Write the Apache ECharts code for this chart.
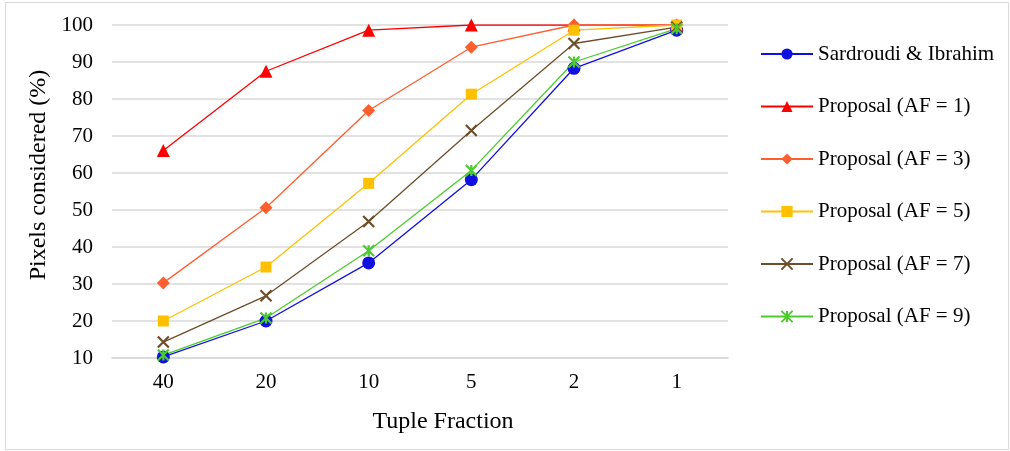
<!DOCTYPE html>
<html><head><meta charset="utf-8">
<script src="https://cdn.jsdelivr.net/npm/echarts@6/dist/echarts.min.js"></script>
<style>html,body{margin:0;padding:0;background:#fff}#c{width:1010px;height:451px}</style>
</head><body><div id="c"></div>
<script>
const categories = ['40','20','10','5','2','1'];
const seriesNames = ['Sardroudi & Ibrahim','Proposal (AF = 1)','Proposal (AF = 3)','Proposal (AF = 5)','Proposal (AF = 7)','Proposal (AF = 9)'];
const sardroudi = [10.3, 20.0, 35.7, 58.2, 88.3, 98.6];
const af1 = [66.1, 87.5, 98.6, 100, 100, 100];
const af3 = [30.3, 50.6, 76.9, 94.0, 100, 100];
const af5 = [20.0, 34.6, 57.2, 81.3, 98.6, 100];
const af7 = [14.3, 26.8, 46.9, 71.5, 95.0, 99.4];
const af9 = [10.8, 20.8, 39.0, 60.7, 90.0, 99.0];
const yTicks = [10,20,30,40,50,60,70,80,90,100];
const xTitle = 'Tuple Fraction';
const yTitle = 'Pixels considered (%)';

const colors = ['#1010E0','#FF0000','#FF5E2E','#FFC000','#6E4E2A','#4CCB2E'];
const symbols = ['circle','triangle','diamond','rect',
  'path://M0,0L10,10M10,0L0,10',
  'path://M0,0L10,10M10,0L0,10M5,0L5,10'];
const sizes = [13,13,13,11,11,11];
const datas = [sardroudi, af1, af3, af5, af7, af9];
const font = '"Liberation Serif", "Times New Roman", serif';

const chart = echarts.init(document.getElementById('c'));
chart.setOption({
  animation: false,
  backgroundColor: '#fff',
  graphic: [
    {type:'rect', shape:{x:5.5,y:2.5,width:1003,height:447}, style:{fill:'none', stroke:'#d9d9d9', lineWidth:1}, silent:true, z:-1},
    {type:'text', x:443, y:422, style:{text:xTitle, font:'24px ' + font, fill:'#000', align:'center', verticalAlign:'middle'}, silent:true},
    {type:'text', x:39, y:175, rotation:Math.PI/2, style:{text:yTitle, font:'24px ' + font, fill:'#000', align:'center', verticalAlign:'middle'}, silent:true}
  ],
  grid: {left: 112, right: 282, top: 25, bottom: 93},
  legend: {
    orient: 'vertical', left: 755, top: 38,
    itemWidth: 52, itemHeight: 14, itemGap: 30.5,
    textStyle: {fontFamily: font, fontSize: 21, color: '#000', lineHeight: 22},
    data: seriesNames
  },
  xAxis: {
    type: 'category', data: categories, boundaryGap: true,
    axisLine: {lineStyle: {color: '#d9d9d9', width: 1.5}},
    axisTick: {show: false},
    axisLabel: {fontFamily: font, fontSize: 21, color: '#000', margin: 14}
  },
  yAxis: {
    type: 'value', min: 10, max: 100, interval: 10,
    axisLine: {show: false}, axisTick: {show: false},
    axisLabel: {fontFamily: font, fontSize: 21, color: '#000', margin: 19,
      formatter: v => yTicks.includes(v) ? String(v) : ''},
    splitLine: {lineStyle: {color: '#d9d9d9', width: 1.5}}
  },
  series: datas.map((d, i) => ({
    name: seriesNames[i], type: 'line', data: d,
    symbol: symbols[i], symbolSize: sizes[i],
    lineStyle: {color: colors[i], width: 1.3},
    itemStyle: {color: colors[i], borderColor: colors[i], borderWidth: i >= 4 ? 2.2 : 0},
    emphasis: {disabled: true}
  }))
});
</script></body></html>
